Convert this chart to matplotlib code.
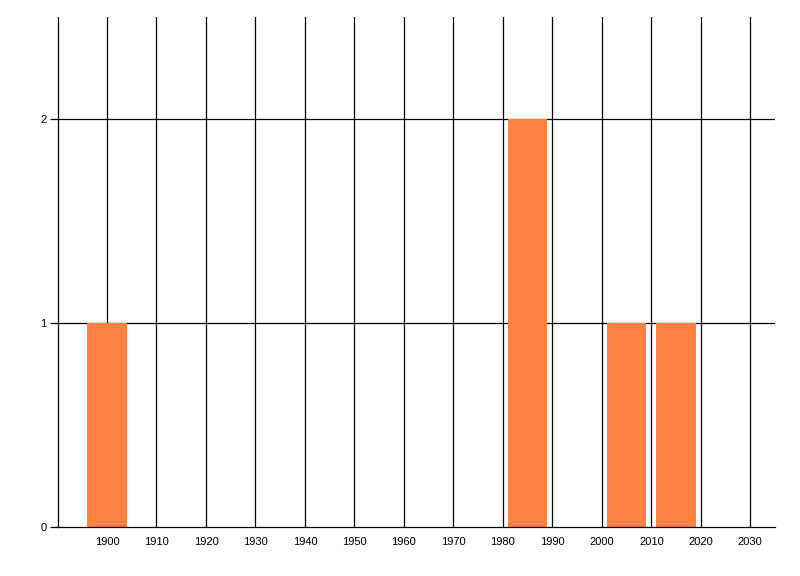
import matplotlib
matplotlib.use("Agg")
import matplotlib.pyplot as plt

# ---data---------------------------------------------------------------
years = [1900, 1985, 2005, 2015]
counts = [1, 2, 1, 1]
xTicks = [1900, 1910, 1920, 1930, 1940, 1950, 1960, 1970,
          1980, 1990, 2000, 2010, 2020, 2030]
yTicks = [0, 1, 2]

plt.rcParams['font.family'] = ['Liberation Sans', 'DejaVu Sans']

fig = plt.figure(figsize=(8, 5.76), dpi=100)
ax = fig.add_axes([0.0719, 0.0851, 0.8969, 0.8854])

ax.bar(years, counts, width=8, color='#FF8040', zorder=3)

ax.set_xlim(1890, 2035)
ax.set_ylim(0, 2.5)
ax.set_xticks(xTicks)
ax.set_yticks(yTicks)
ax.set_xticklabels([str(x) for x in xTicks])

for x in xTicks:
    ax.axvline(x, color='black', linewidth=0.9, zorder=1)
for y in yTicks[1:]:
    ax.axhline(y, color='black', linewidth=0.9, zorder=1)

for side in ['top', 'right']:
    ax.spines[side].set_visible(False)
for side in ['left', 'bottom']:
    ax.spines[side].set_linewidth(0.9)
    ax.spines[side].set_zorder(4)

ax.tick_params(axis='x', length=0, pad=7.5, labelsize=8)
ax.tick_params(axis='y', length=6, width=0.9, pad=2, labelsize=8)

fig.savefig('out.png', dpi=100)
